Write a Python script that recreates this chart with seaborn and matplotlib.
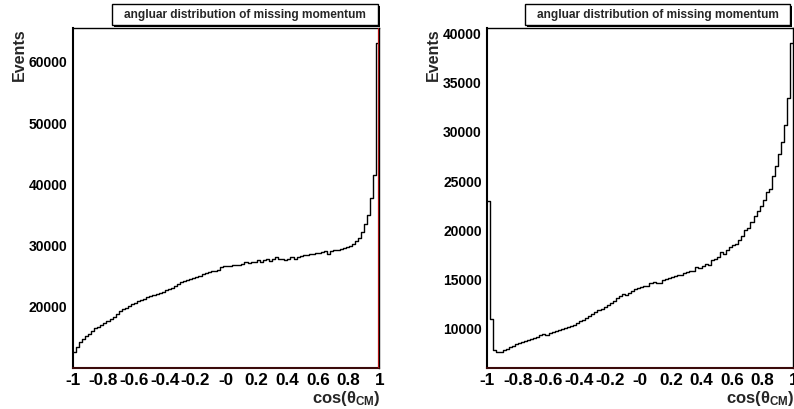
import numpy as np
import pandas as pd
import matplotlib
matplotlib.use("Agg")
import matplotlib.pyplot as plt
from matplotlib.patches import Rectangle
from matplotlib.ticker import FixedLocator, MultipleLocator
import seaborn as sns

# ---------------- data ----------------
title_text = "angluar distribution of missing momentum"
y_label = "Events"
n_bins = 100
x_range = (-1.0, 1.0)
x_tick_values = [-1.0, -0.8, -0.6, -0.4, -0.2, 0.0, 0.2, 0.4, 0.6, 0.8, 1.0]
x_tick_labels = ["-1", "-0.8", "-0.6", "-0.4", "-0.2", "-0", "0.2", "0.4", "0.6", "0.8", "1"]

left_counts = [
    12600, 13500, 14300, 14800, 15200, 15600, 16000, 16600, 16800, 17100,
    17400, 17700, 18000, 18300, 18900, 19400, 19700, 19900, 20200, 20400,
    20700, 20900, 21100, 21300, 21600, 21800, 21900, 22100, 22300, 22500,
    22700, 22900, 23100, 23400, 23700, 24000, 24200, 24400, 24600, 24800,
    24900, 25100, 25300, 25500, 25700, 25800, 25900, 26000, 26500, 26600,
    26600, 26700, 26800, 26900, 26900, 27000, 27300, 27100, 27400, 27300,
    27700, 27400, 27600, 27900, 27500, 27800, 28100, 27900, 27800, 27700,
    27800, 28100, 27900, 28200, 28300, 28400, 28500, 28600, 28700, 28800,
    28800, 29000, 29100, 28700, 29100, 29300, 29300, 29400, 29600, 29700,
    30000, 30300, 30700, 31300, 32300, 33600, 35000, 37800, 41500, 63000,
]
left_yticks = [20000, 30000, 40000, 50000, 60000]
left_minor_step = 2000

right_counts = [
    23000, 11000, 7800, 7600, 7600, 7800, 7900, 8100, 8200, 8400,
    8500, 8600, 8700, 8800, 8900, 9100, 9200, 9400, 9500, 9400,
    9600, 9700, 9800, 9900, 10000, 10100, 10200, 10300, 10400, 10600,
    10800, 10900, 11100, 11300, 11500, 11700, 11900, 12000, 12200, 12400,
    12600, 12800, 13100, 13300, 13500, 13400, 13600, 13800, 14000, 14100,
    14200, 14300, 14300, 14600, 14700, 14600, 14600, 14900, 15000, 15100,
    15300, 15400, 15500, 15500, 15700, 15800, 15900, 15900, 16300, 16200,
    16400, 16600, 16500, 17000, 17100, 17300, 17800, 17600, 18000, 18300,
    18500, 18600, 19000, 19400, 20000, 20200, 20800, 21500, 22000, 22500,
    23100, 23900, 24200, 25500, 26500, 27800, 29000, 30700, 33500, 39000,
]
right_yticks = [10000, 15000, 20000, 25000, 30000, 35000, 40000]
right_minor_step = 1000

# ---------------- style ----------------
sns.set_style("white")
plt.rcParams["font.family"] = ["Liberation Sans", "DejaVu Sans"]
plt.rcParams["font.weight"] = "bold"
plt.rcParams["mathtext.fontset"] = "custom"
plt.rcParams["mathtext.rm"] = "Liberation Sans:bold"
plt.rcParams["mathtext.bf"] = "Liberation Sans:bold"
plt.rcParams["mathtext.it"] = "Liberation Sans"

W, H = 794, 409
fig = plt.figure(figsize=(W / 100, H / 100), dpi=100)


def fx(px):
    return px / W


def fy(py):
    return 1 - py / H


def make_panel(ax_left, ax_right, counts, yticks, minor_step, title_box, ylab_x):
    ax = fig.add_axes([fx(ax_left), fy(367.7), fx(ax_right - ax_left), (367.7 - 28) / H])
    edges = np.linspace(x_range[0], x_range[1], n_bins + 1)
    centers = 0.5 * (edges[:-1] + edges[1:])
    df = pd.DataFrame({"x": centers, "w": counts})
    sns.histplot(data=df, x="x", weights="w", bins=n_bins, binrange=x_range,
                 element="step", fill=False, color="black", linewidth=1.0, ax=ax)
    cmin, cmax = min(counts), max(counts)
    span = cmax - cmin
    ax.set_xlim(*x_range)
    ax.set_ylim(cmin - 0.05 * span, cmax + 0.05 * span)
    ax.set_xlabel("")
    ax.set_ylabel("")
    ax.xaxis.set_major_locator(FixedLocator(x_tick_values))
    ax.set_xticklabels(x_tick_labels)
    ax.xaxis.set_minor_locator(MultipleLocator(0.05))
    ax.yaxis.set_major_locator(FixedLocator(yticks))
    ax.yaxis.set_minor_locator(MultipleLocator(minor_step))
    ax.tick_params(axis="both", which="both", direction="in", colors="black",
                   top=False, right=False)
    ax.tick_params(axis="y", labelsize=10)
    ax.tick_params(axis="x", labelsize=12.3)
    ax.tick_params(axis="both", which="major", length=10, width=0.9)
    ax.tick_params(axis="both", which="minor", length=5, width=0.9)
    ax.tick_params(axis="x", which="both", pad=4)
    ax.tick_params(axis="y", which="both", pad=4)
    for lab in ax.get_xticklabels() + ax.get_yticklabels():
        lab.set_fontweight("bold")
    for s in ax.spines.values():
        s.set_color("black")
        s.set_linewidth(1.0)
        s.set_visible(True)
    ax.spines["left"].set_linewidth(1.5)
    ax.spines["bottom"].set_color("#3a0a0a")
    ax.spines["bottom"].set_linewidth(1.5)
    ax.grid(False)

    # title box with shadow
    bx0, by0, bx1, by1 = title_box
    fig.patches.append(Rectangle((fx(bx0 + 2), fy(by1 + 2)), fx(bx1 - bx0), (by1 - by0) / H,
                                 transform=fig.transFigure, facecolor="black",
                                 edgecolor="black", lw=0))
    fig.patches.append(Rectangle((fx(bx0), fy(by1)), fx(bx1 - bx0), (by1 - by0) / H,
                                 transform=fig.transFigure, facecolor="white",
                                 edgecolor="black", lw=1.0))
    fig.text(fx((bx0 + bx1) / 2), fy((by0 + by1) / 2 + 0.5), title_text, ha="center",
             va="center", fontsize=8.6, fontweight="bold")
    fig.text(fx(ylab_x), fy(28), y_label, rotation=90, ha="center", va="top",
             fontsize=11.5, fontweight="bold")
    fig.text(fx(ax_right + 1), fy(403), r"cos($\theta_{\mathrm{CM}}$)", ha="right",
             va="baseline", fontsize=12, fontweight="bold")
    return ax


axL = make_panel(72.7, 379.4, left_counts, left_yticks, left_minor_step, (112, 4, 378, 25), 19)
axL.axvline(1.0, color="#b01010", lw=1.6, zorder=5)
axR = make_panel(487.3, 793.3, right_counts, right_yticks, right_minor_step, (525, 4, 790, 25), 433)

fig.savefig("out.png", dpi=100)
